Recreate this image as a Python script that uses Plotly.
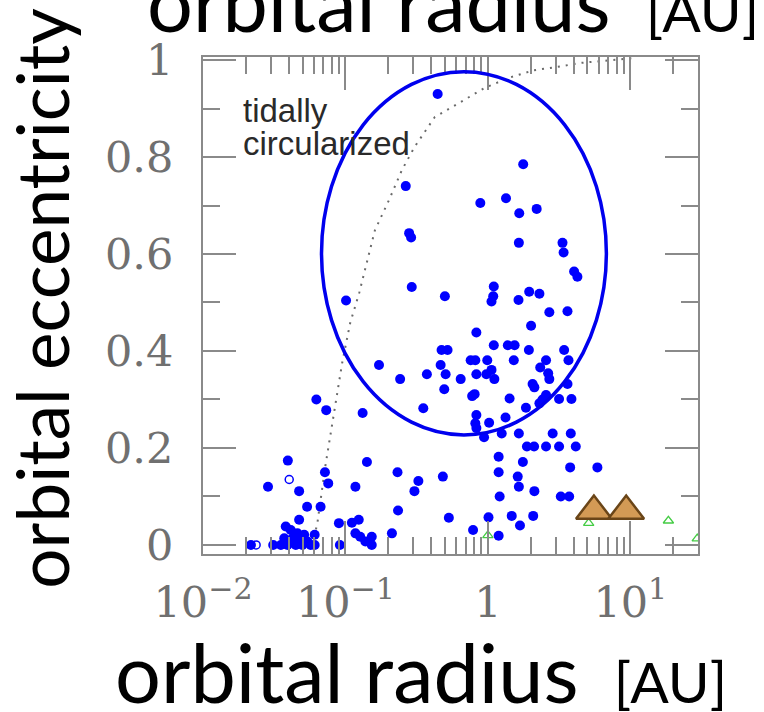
import plotly.graph_objects as go

# ---- detected planets (filled blue) : orbital radius [AU], eccentricity ----
planet_a = [
    0.444, 0.265, 0.280, 0.289, 0.292, 0.499, 0.101, 1.77, 1.34, 0.885,
    1.66, 2.20, 1.65, 3.34, 3.40, 4.03, 4.25, 1.10, 1.09, 1.06,
    1.95, 2.30, 1.64, 2.70, 3.62, 2.01, 0.83, 1.10, 1.38, 1.54,
    1.94, 3.43, 0.473, 0.521, 0.757, 0.816, 0.99, 1.52, 2.56, 3.68,
    0.172, 0.466, 0.242, 0.373, 0.505, 0.644, 0.83, 0.975, 1.06, 2.33,
    2.65, 2.70, 1.11, 0.494, 2.06, 2.12, 3.62, 0.352, 0.0625, 0.0733,
    0.132, 0.775, 0.807, 1.42, 2.56, 2.42, 2.30, 3.16, 3.86, 1.85,
    0.83, 0.816, 0.83, 1.02, 1.33, 1.25, 0.94, 1.65, 2.85, 3.82,
    1.88, 2.11, 2.56, 3.16, 4.14, 1.19, 1.76, 3.78, 5.87, 0.483,
    1.19, 1.62, 1.65, 2.12, 1.21, 3.25, 3.72, 0.532, 1.01, 1.47,
    2.08, 1.68, 0.787, 1.19,
    0.0394, 0.1415, 0.0718, 0.232, 0.325, 0.305, 0.0286, 0.0757, 0.0473, 0.1175,
    0.0538, 0.0669, 0.234, 0.0473, 0.090, 0.111, 0.124, 0.0381, 0.0608,
    0.0372, 0.0392, 0.0413, 0.0425, 0.0448, 0.046, 0.0473, 0.0499, 0.0513, 0.0541,
    0.057, 0.0608, 0.0352, 0.0217, 0.0311, 0.0914,
    0.1175, 0.127, 0.138, 0.153, 0.153, 0.212,
]
planet_e = [
    0.930, 0.740, 0.643, 0.634, 0.532, 0.513, 0.504, 0.785, 0.715, 0.705,
    0.684, 0.693, 0.623, 0.623, 0.603, 0.564, 0.553, 0.533, 0.513, 0.502,
    0.522, 0.518, 0.505, 0.480, 0.482, 0.452, 0.438, 0.412, 0.412, 0.412,
    0.402, 0.402, 0.402, 0.402, 0.381, 0.381, 0.381, 0.381, 0.381, 0.381,
    0.371, 0.371, 0.342, 0.352, 0.352, 0.342, 0.352, 0.352, 0.361, 0.366,
    0.354, 0.342, 0.342, 0.321, 0.332, 0.325, 0.332, 0.282, 0.300, 0.278,
    0.272, 0.307, 0.311, 0.302, 0.309, 0.300, 0.292, 0.301, 0.301, 0.283,
    0.268, 0.251, 0.241, 0.252, 0.263, 0.230, 0.222, 0.230, 0.230, 0.230,
    0.203, 0.203, 0.203, 0.203, 0.203, 0.182, 0.171, 0.160, 0.160, 0.141,
    0.150, 0.141, 0.120, 0.111, 0.100, 0.100, 0.100, 0.056, 0.057, 0.060,
    0.060, 0.040, 0.031, 0.019,
    0.174, 0.171, 0.150, 0.150, 0.132, 0.111, 0.120, 0.127, 0.111, 0.120,
    0.079, 0.079, 0.071, 0.052, 0.045, 0.046, 0.052, 0.038, 0.021,
    0.014, 0.000, 0.031, 0.014, 0.000, 0.024, 0.010, 0.000, 0.021, 0.007,
    0.000, 0.000, 0.000, 0.000, 0.000, 0.000,
    0.024, 0.017, 0.007, 0.017, 0.000, 0.024,
]

# open blue circles
open_a = [0.0236, 0.0403]
open_e = [0.000, 0.135]

# small green open triangles
green_a = [1.0, 5.1, 18.5, 29.5]
green_e = [0.020, 0.045, 0.050, 0.013]

# large brown triangles
brown_a = [5.55, 9.35]
brown_e = [0.070, 0.070]

# tidal circularization boundary (dotted curve)
tidal_a = [0.0586, 0.0635, 0.0721, 0.0847, 0.0948, 0.108, 0.125, 0.161, 0.202, 0.249,
           0.306, 0.423, 0.684, 0.944, 1.39, 2.11, 3.10, 4.49, 10.5]
tidal_e = [0.000, 0.045, 0.161, 0.285, 0.375, 0.458, 0.520, 0.649, 0.711, 0.773,
           0.821, 0.882, 0.918, 0.942, 0.963, 0.979, 0.986, 0.994, 1.004]

# highlighted region (ellipse)
ellipse_a = [0.0679, 6.79]
ellipse_e = [0.227, 0.976]

x_tickvals = [0.01, 0.1, 1, 10]
x_ticktext = ["10<sup>−2</sup>", "10<sup>−1</sup>", "1", "10<sup>1</sup>"]
x_minor = [m * d for d in (0.01, 0.1, 1, 10) for m in range(2, 10) if m * d <= 29]
y_tickvals = [0, 0.2, 0.4, 0.6, 0.8, 1]
y_ticktext = ["0", "0.2", "0.4", "0.6", "0.8", "1"]
y_minor = [0.1, 0.3, 0.5, 0.7, 0.9]

GRAY = "#8a8a8a"
LABEL = "#707070"
tickfont = dict(family="DejaVu Serif", size=43, color=LABEL)
TITLE_FONT = "Lato, sans-serif"

fig = go.Figure()
fig.add_trace(go.Scatter(x=tidal_a, y=tidal_e, mode="lines",
                         line=dict(color="#6a6a6a", width=2, dash="2px,6px"),
                         hoverinfo="skip"))
fig.add_trace(go.Scatter(x=planet_a, y=planet_e, mode="markers",
                         marker=dict(symbol="circle", size=10, color="#0000ff")))
fig.add_trace(go.Scatter(x=open_a, y=open_e, mode="markers",
                         marker=dict(symbol="circle-open", size=8, color="#0000ff",
                                     line=dict(width=1.5))))
fig.add_trace(go.Scatter(x=green_a, y=green_e, mode="markers",
                         marker=dict(symbol="triangle-up-open", size=9, color="#44cc44",
                                     line=dict(width=1.3))))
fig.add_trace(go.Scatter(x=brown_a, y=brown_e, mode="markers",
                         marker=dict(symbol="triangle-up", size=31, color="#d39a55",
                                     line=dict(color="#6a4518", width=2.5))))

fig.add_shape(type="circle", xref="x", yref="y",
              x0=ellipse_a[0], x1=ellipse_a[1], y0=ellipse_e[0], y1=ellipse_e[1],
              line=dict(color="#0000ee", width=3.5))

fig.update_layout(
    width=764, height=712,
    margin=dict(l=203, r=66, t=57, b=158),
    paper_bgcolor="white", plot_bgcolor="white",
    showlegend=False,
    xaxis=dict(type="log", range=[-2.0, 1.475],
               tickvals=x_tickvals, ticktext=x_ticktext,
               ticks="inside", ticklen=33, tickwidth=1.5, tickcolor=GRAY,
               minor=dict(tickvals=x_minor, ticks="inside", ticklen=17,
                          tickwidth=1.5, tickcolor=GRAY, showgrid=False),
               showline=True, linecolor=GRAY, linewidth=2, mirror="ticks",
               showgrid=False, zeroline=False, automargin=False,
               tickfont=tickfont, ticklabelstandoff=9),
    yaxis=dict(range=[-0.0186, 1.0062],
               tickvals=y_tickvals, ticktext=y_ticktext,
               ticks="inside", ticklen=33, tickwidth=1.5, tickcolor=GRAY,
               minor=dict(tickvals=y_minor, ticks="inside", ticklen=17,
                          tickwidth=1.5, tickcolor=GRAY, showgrid=False),
               showline=True, linecolor=GRAY, linewidth=2, mirror="ticks",
               showgrid=False, zeroline=False, automargin=False,
               tickfont=tickfont, ticklabelstandoff=19),
    yaxis2=dict(range=[-0.0186, 1.0062], overlaying="y", side="right", anchor="x",
                tickvals=[0.2, 0.4, 0.6, 0.8], ticktext=["0.2", "0.4", "0.6", "0.8"],
                ticks="", showline=False, showgrid=False, zeroline=False,
                automargin=False, tickfont=tickfont, ticklabelstandoff=41),
)

note_font = dict(family="Liberation Sans, Arial, sans-serif", size=33, color="#2a2a2a")
fig.add_annotation(text="tidally", xref="paper", yref="paper", x=0.076, y=0.852,
                   xanchor="left", yanchor="bottom", showarrow=False, font=note_font)
fig.add_annotation(text="circularized", xref="paper", yref="paper", x=0.076, y=0.785,
                   xanchor="left", yanchor="bottom", showarrow=False, font=note_font)

title_txt = ("orbital radius&nbsp;"
             "<span style='font-size:57px'>&nbsp;[AU]</span>")
fig.add_annotation(text=title_txt, xref="paper", yref="paper", x=0.440, y=-0.339,
                   xanchor="center", yanchor="bottom", showarrow=False,
                   font=dict(family=TITLE_FONT, size=81, color="black"))
fig.add_annotation(text=title_txt, xref="paper", yref="paper", x=0.505, y=1.012,
                   xanchor="center", yanchor="bottom", showarrow=False,
                   font=dict(family=TITLE_FONT, size=81, color="black"))
fig.add_annotation(text="orbital eccentricity", xref="paper", yref="paper",
                   x=-0.327, y=0.514, xanchor="center", yanchor="middle",
                   textangle=-90, showarrow=False,
                   font=dict(family=TITLE_FONT, size=71, color="black"))

fig.write_html("out.html")
